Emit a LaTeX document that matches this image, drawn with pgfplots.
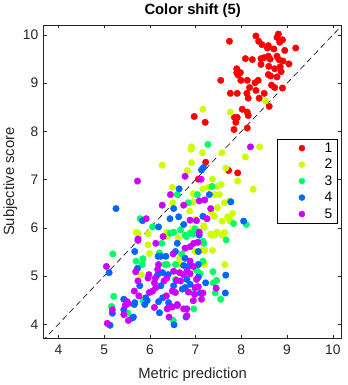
\documentclass[border=0pt]{standalone}
\usepackage{pgfplots}
\pgfplotsset{compat=1.18}
\usepackage{fontspec}
\setmainfont{Liberation Sans}
\definecolor{c1}{rgb}{1,0,0}
\definecolor{c2}{rgb}{0.8,1,0}
\definecolor{c3}{rgb}{0,1,0.4}
\definecolor{c4}{rgb}{0,0.4,1}
\definecolor{c5}{rgb}{0.8,0,1}
\definecolor{axgray}{rgb}{0.15,0.15,0.15}
\begin{document}
\begin{tikzpicture}
\begin{axis}[
  scale only axis,
  width=301.7pt, height=317.6pt,
  xmin=3.68, xmax=10.19, ymin=3.71, ymax=10.21,
  xtick={4,5,6,7,8,9,10}, ytick={4,5,6,7,8,9,10},
  tick align=inside, major tick length=3.5pt,
  xtick pos=both, ytick pos=both,
  axis line style={axgray, line width=0.6pt},
  every tick/.style={axgray, line width=0.6pt},
  /pgf/number format/assume math mode=true,
  tick label style={font=\fontsize{14}{16}\selectfont, text=axgray},
  xticklabel style={yshift=-3pt},
  yticklabel style={xshift=-2pt},
  xlabel={Metric prediction},
  ylabel={Subjective score},
  every axis x label/.style={at={(axis description cs:0.5,0)}, anchor=center, yshift=-37pt, font=\fontsize{15}{17}\selectfont, text=axgray},
  every axis y label/.style={at={(axis description cs:0,0.5)}, anchor=center, rotate=90, yshift=34pt, font=\fontsize{15}{17}\selectfont, text=axgray},
  title={Color shift (5)},
  title style={font=\fontsize{15}{17}\selectfont\bfseries, at={(axis description cs:0.5,1)}, anchor=base, yshift=5pt},
  legend style={at={(0.9867,0.637)}, anchor=north east, draw=black, line width=0.5pt,
    inner xsep=5pt, inner ysep=1pt, row sep=0pt, column sep=0pt,
    font=\fontsize{14}{16}\selectfont,
    nodes={inner xsep=0pt, inner ysep=0pt, minimum height=16.7pt}},
  legend cell align=left,
  legend image code/.code={\path (0pt,-2pt) (42.8pt,2pt); \draw[#1, mark size=3pt] plot coordinates {(20pt,0pt)};},
]
\addplot[only marks, mark=*, mark size=3.3pt, color=c1, mark options={draw=c1, fill=c1}] coordinates {
(7.74,9.87) (8.32,9.98) (8.81,10.02) (8.78,9.95) (8.90,9.90) (8.84,9.85) (8.38,9.87) (8.45,9.80)
(8.59,9.78) (8.71,9.71) (8.57,9.73) (8.95,9.68) (9.19,9.73) (8.09,9.51) (8.24,9.49) (8.43,9.51)
(8.50,9.53) (8.59,9.56) (8.63,9.50) (8.78,9.56) (8.82,9.49) (8.91,9.46) (8.43,9.39) (8.60,9.35)
(8.73,9.30) (8.85,9.34) (9.04,9.40) (7.90,9.30) (7.90,9.22) (7.98,9.22) (7.93,9.17) (8.59,9.18)
(8.64,9.15) (8.78,9.13) (8.87,9.24) (7.55,9.06) (7.99,9.06) (8.13,9.06) (8.30,9.01) (8.37,9.06)
(8.66,8.96) (8.73,8.91) (8.90,8.90) (8.18,8.91) (7.76,8.79) (7.91,8.79) (8.12,8.79) (8.32,8.85)
(8.50,8.79) (8.15,8.69) (8.39,8.69) (8.61,8.52) (8.02,8.46) (8.13,8.40) (8.15,8.33) (7.21,8.19)
(6.97,8.31) (7.85,8.29) (7.91,8.29) (7.88,8.19) (7.84,8.04) (8.13,8.07) (7.22,7.36) (7.72,7.19)
(7.92,7.14) (7.06,7.01)
};
\addlegendentry{1}
\addplot[only marks, mark=*, mark size=3.3pt, color=c2, mark options={draw=c2, fill=c2}] coordinates {
(7.16,8.46) (7.76,8.40) (8.53,8.63) (6.91,7.68) (6.90,7.63) (7.15,7.56) (7.58,7.56) (8.09,7.47)
(8.40,7.68) (6.27,7.30) (6.91,7.35) (7.66,7.24) (6.82,7.19) (7.37,7.01) (7.92,6.97) (8.26,6.80)
(6.49,6.84) (7.16,6.81) (7.28,6.84) (7.56,6.90) (7.48,6.86) (7.52,6.69) (7.42,6.69) (6.95,6.71)
(6.95,6.54) (6.50,6.52) (7.63,6.52) (7.74,6.56) (7.35,6.32) (6.87,6.35) (7.48,6.42) (7.41,6.24)
(7.58,6.14) (7.73,6.19) (7.81,6.30) (7.70,6.23) (7.76,6.14) (7.00,6.18) (7.18,6.01) (6.94,5.98)
(5.70,5.91) (6.37,5.91) (7.35,5.85) (7.46,5.91) (7.63,5.90) (7.33,5.87) (7.48,5.90) (7.18,6.04)
(7.42,5.85) (7.58,5.85) (7.13,5.53) (7.20,5.53) (7.37,5.53) (7.64,5.24) (7.19,5.24) (5.81,5.03)
(5.74,5.89) (5.96,5.65) (5.99,5.47) (6.38,5.82) (6.65,5.37) (6.67,5.24) (6.62,5.79) (6.99,5.51)
(5.96,5.88)
};
\addlegendentry{2}
\addplot[only marks, mark=*, mark size=3.3pt, color=c3, mark options={draw=c3, fill=c3}] coordinates {
(7.27,7.73) (7.36,6.86) (6.60,6.69) (7.04,6.69) (6.84,6.52) (5.79,6.19) (6.06,6.02) (7.83,6.09)
(8.11,6.07) (6.99,5.98) (6.52,5.91) (6.77,5.85) (6.95,5.87) (7.67,5.75) (7.16,5.72) (6.67,5.96)
(7.18,5.68) (7.16,5.31) (7.38,5.09) (7.10,5.05) (7.39,4.86) (7.46,4.91) (7.43,4.65) (7.55,4.52)
(6.96,4.32) (6.51,4.08) (5.52,4.23) (5.16,4.37) (5.19,5.46) (5.21,4.58) (5.70,5.31) (5.83,5.24)
(5.85,5.36) (5.85,4.49) (6.21,5.48) (6.26,5.68) (6.38,5.24) (6.33,5.24) (6.56,4.93) (6.94,4.66)
(7.02,5.12) (6.56,5.24) (6.70,5.46) (6.80,5.82) (6.45,5.89) (6.88,5.89) (5.17,4.36)
};
\addlegendentry{3}
\addplot[only marks, mark=*, mark size=3.3pt, color=c4, mark options={draw=c4, fill=c4}] coordinates {
(7.13,7.20) (7.17,7.25) (6.64,6.81) (7.30,6.69) (6.52,6.40) (7.77,6.54) (5.26,6.40) (5.84,6.15)
(6.19,6.02) (6.44,6.19) (6.63,6.23) (6.74,6.07) (7.16,6.24) (8.05,6.14) (7.08,5.85) (7.06,5.24)
(7.66,5.02) (7.06,4.98) (7.22,4.86) (7.65,4.65) (7.10,4.65) (6.79,4.15) (6.53,3.99) (6.21,4.24)
(5.89,4.41) (5.64,4.15) (5.43,4.30) (5.66,4.41) (5.13,3.98) (5.18,4.23) (5.11,5.07) (5.43,4.52)
(5.62,4.13) (5.67,4.45) (5.78,4.80) (5.73,5.16) (5.67,5.51) (5.91,4.55) (5.94,4.49) (6.24,4.80)
(6.17,5.03) (6.28,5.07) (6.18,5.41) (6.24,5.41) (6.35,5.41) (6.28,4.55) (6.19,4.47) (6.41,4.45)
(6.52,4.80) (6.84,5.20) (6.74,5.22) (6.81,4.93) (6.88,4.83) (6.77,4.76) (6.71,4.73) (6.77,5.37)
(6.56,5.51) (6.60,5.68) (7.06,5.51) (6.40,5.03)
};
\addlegendentry{4}
\addplot[only marks, mark=*, mark size=3.3pt, color=c5, mark options={draw=c5, fill=c5}] coordinates {
(8.20,7.68) (6.77,7.07) (5.73,6.97) (7.12,7.01) (6.45,6.69) (7.08,6.56) (7.20,6.58) (6.27,6.47)
(6.74,6.47) (7.33,6.40) (5.92,6.19) (6.88,6.16) (7.02,6.15) (7.25,6.19) (5.74,5.77) (7.08,5.91)
(7.45,4.75) (7.16,4.65) (7.13,4.52) (6.81,4.18) (6.74,4.32) (6.42,4.15) (6.60,4.41) (6.49,4.36)
(6.38,4.32) (6.10,4.35) (5.53,4.08) (5.07,4.02) (5.18,4.30) (5.05,5.20) (5.50,4.47) (5.53,4.43)
(5.43,4.20) (5.76,4.59) (5.66,4.69) (5.74,4.90) (5.69,5.09) (5.74,5.74) (5.99,4.66) (6.06,4.69)
(6.13,4.76) (6.10,4.86) (6.12,4.96) (5.96,4.96) (5.98,5.03) (6.17,5.14) (6.19,5.24) (6.37,4.96)
(6.31,4.90) (6.36,4.59) (6.40,4.34) (6.60,4.39) (6.81,4.32) (6.49,4.69) (6.56,4.66) (6.67,4.90)
(6.58,4.91) (6.65,5.07) (6.52,5.10) (6.74,5.03) (6.81,5.10) (6.88,5.05) (6.95,5.20) (6.84,4.67)
(6.98,4.62) (6.95,4.49) (6.99,4.76) (7.06,4.78) (7.02,4.93) (6.88,5.31) (6.51,5.46) (6.13,5.68)
(6.29,5.82) (6.77,5.58) (6.88,5.61) (6.96,5.68) (7.05,5.70) (5.46,4.39)
};
\addlegendentry{5}
\addplot[black, line width=0.6pt, dash pattern=on 6pt off 4pt, forget plot] coordinates {(3.5,3.5) (10.5,10.5)};
\end{axis}
\path ([shift={(-43.3pt,-46.7pt)}]current axis.south west) rectangle ([shift={(6pt,20.7pt)}]current axis.north east);
\end{tikzpicture}
\end{document}
